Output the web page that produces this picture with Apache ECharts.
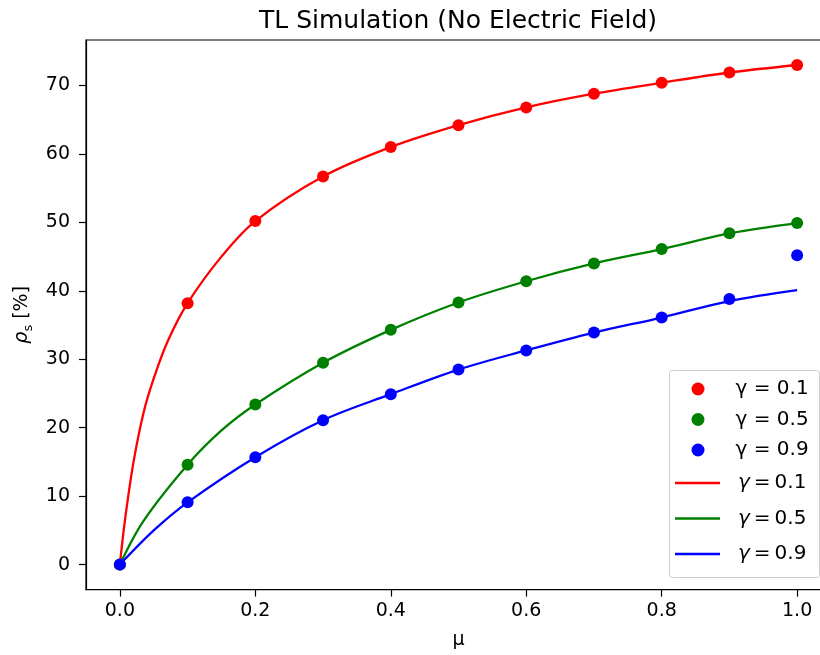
<!DOCTYPE html>
<html>
<head>
<meta charset="utf-8">
<script src="https://cdn.jsdelivr.net/npm/echarts@6/dist/echarts.min.js"></script>
<style>
html,body{margin:0;padding:0;background:#fff;}
#chart{width:820px;height:655px;}
</style>
</head>
<body>
<div id="chart"></div>
<script>
// ---- data ----
const muDots = [0, 0.1, 0.2, 0.3, 0.4, 0.5, 0.6, 0.7, 0.8, 0.9, 1.0];
const dotsG01 = [0, 38.2, 50.2, 56.7, 61.0, 64.2, 66.8, 68.8, 70.4, 71.9, 73.0];
const dotsG05 = [0, 14.6, 23.4, 29.5, 34.3, 38.3, 41.4, 44.0, 46.1, 48.4, 49.9];
const dotsG09 = [0, 9.1, 15.7, 21.1, 24.9, 28.5, 31.3, 33.9, 36.1, 38.8, 45.2];

const muLineG01 = [0, 0.0074, 0.02, 0.035, 0.05, 0.07, 0.1, 0.15, 0.2, 0.3, 0.4, 0.5, 0.6, 0.7, 0.8, 0.9, 1.0];
const lineG01   = [0, 6.4, 14.9, 22.2, 27.2, 32.5, 38.2, 45.0, 50.2, 56.7, 61.0, 64.2, 66.8, 68.8, 70.4, 71.9, 73.0];
const muLineG05 = [0, 0.035, 0.1, 0.15, 0.2, 0.3, 0.4, 0.5, 0.6, 0.7, 0.8, 0.9, 1.0];
const lineG05   = [0, 6.4, 14.6, 19.6, 23.4, 29.5, 34.3, 38.3, 41.4, 44.0, 46.1, 48.4, 49.9];
const muLineG09 = [0, 0.05, 0.1, 0.2, 0.3, 0.4, 0.5, 0.6, 0.7, 0.8, 0.9, 1.0];
const lineG09   = [0, 5.0, 9.1, 15.7, 21.1, 24.9, 28.5, 31.3, 33.9, 36.1, 38.5, 40.1];

const xTicks = [0, 0.2, 0.4, 0.6, 0.8, 1.0];
const yTicks = [0, 10, 20, 30, 40, 50, 60, 70];

const scatterNames = ['γ = 0.1', 'γ = 0.5', 'γ = 0.9'];
const lineNames = ['γ=0.1', 'γ=0.5', 'γ=0.9'];
const colors = ['#ff0000', '#008000', '#0000ff'];

const FONT = 'DejaVu Sans';
const zip = (a, b) => a.map((v, i) => [v, b[i]]);

const chart = echarts.init(document.getElementById('chart'), null, {renderer: 'canvas'});

const dotSets = [dotsG01, dotsG05, dotsG09];
const lineSets = [[muLineG01, lineG01], [muLineG05, lineG05], [muLineG09, lineG09]];

const series = [];
dotSets.forEach((d, i) => {
  series.push({
    name: scatterNames[i], type: 'scatter', data: zip(muDots, d),
    symbolSize: 12, itemStyle: {color: colors[i], opacity: 1}, z: 3, silent: true
  });
});
lineSets.forEach((l, i) => {
  series.push({
    name: lineNames[i], type: 'line', data: zip(l[0], l[1]),
    showSymbol: false, smooth: 0.35,
    lineStyle: {color: colors[i], width: 2.3}, itemStyle: {color: colors[i]}, z: 2, silent: true
  });
});

const option = {
  backgroundColor: '#fff',
  animation: false,
  title: {
    text: 'TL Simulation (No Electric Field)',
    left: 453, top: 4, textAlign: 'center',
    textStyle: {fontFamily: FONT, fontSize: 25, fontWeight: 'normal', color: '#000'}
  },
  grid: {
    left: 86, top: 40, width: 745, height: 549.6, outerBoundsMode: 'none',
    show: true, borderColor: '#000', borderWidth: 1.2, backgroundColor: 'transparent'
  },
  xAxis: {
    type: 'value', min: -0.05, max: 1.05,
    name: 'μ', nameLocation: 'middle', nameGap: 41,
    nameTextStyle: {fontFamily: FONT, fontSize: 19, color: '#000'},
    axisLine: {show: true, onZero: false, lineStyle: {color: '#000', width: 1.2}},
    axisTick: {show: true, length: 7, lineStyle: {color: '#000', width: 1.2}, customValues: xTicks},
    axisLabel: {fontFamily: FONT, fontSize: 19, color: '#000', margin: 12,
      customValues: xTicks, formatter: v => v.toFixed(1)},
    splitLine: {show: false}
  },
  yAxis: {
    type: 'value', min: -3.65, max: 76.65,
    name: '{r|ρ}{s|s}{n| [%]}', nameLocation: 'middle', nameGap: 50, nameRotate: 90,
    nameTextStyle: {
      fontFamily: FONT, fontSize: 19, color: '#000',
      rich: {
        r: {fontFamily: FONT, fontStyle: 'italic', fontSize: 19, color: '#000', lineHeight: 26, verticalAlign: 'middle'},
        s: {fontFamily: FONT, fontSize: 13, color: '#000', lineHeight: 26, verticalAlign: 'bottom'},
        n: {fontFamily: FONT, fontSize: 19, color: '#000', lineHeight: 26, verticalAlign: 'middle'}
      }
    },
    axisLine: {show: true, onZero: false, lineStyle: {color: '#000', width: 1.2}},
    axisTick: {show: true, length: 7, lineStyle: {color: '#000', width: 1.2}, customValues: yTicks},
    axisLabel: {fontFamily: FONT, fontSize: 19, color: '#000', margin: 16, customValues: yTicks},
    splitLine: {show: false}
  },
  legend: [
    {
      data: scatterNames.map(n => ({name: n, icon: 'circle'})),
      orient: 'vertical', left: 691.5, top: 379,
      itemWidth: 13, itemHeight: 13, itemGap: 10.5, padding: 0,
      textStyle: {fontFamily: FONT, fontSize: 20, color: '#000', lineHeight: 20, padding: [0, 0, 0, 26]},
      selectedMode: false, z: 5
    },
    {
      data: lineNames.map(n => ({name: n, icon: 'path://M0,0L45,0L45,2.4L0,2.4Z'})),
      orient: 'vertical', left: 675, top: 473,
      itemWidth: 45, itemHeight: 13, itemGap: 15.5, padding: 0,
      formatter: n => '{g|γ}{n|\u2009=\u2009' + n.split('=')[1] + '}',
      textStyle: {fontFamily: FONT, fontSize: 20, color: '#000', lineHeight: 20, padding: [0, 0, 0, 13],
        rich: {
          g: {fontFamily: FONT, fontStyle: 'italic', fontSize: 20, color: '#000'},
          n: {fontFamily: FONT, fontSize: 20, color: '#000'}
        }},
      selectedMode: false, z: 5
    }
  ],
  graphic: [{
    type: 'rect', z: 4,
    shape: {x: 669.5, y: 370.5, width: 150, height: 207, r: 3},
    style: {fill: 'rgba(255,255,255,0.8)', stroke: '#cccccc', lineWidth: 1}
  }],
  series: series
};
chart.setOption(option);
</script>
</body>
</html>
